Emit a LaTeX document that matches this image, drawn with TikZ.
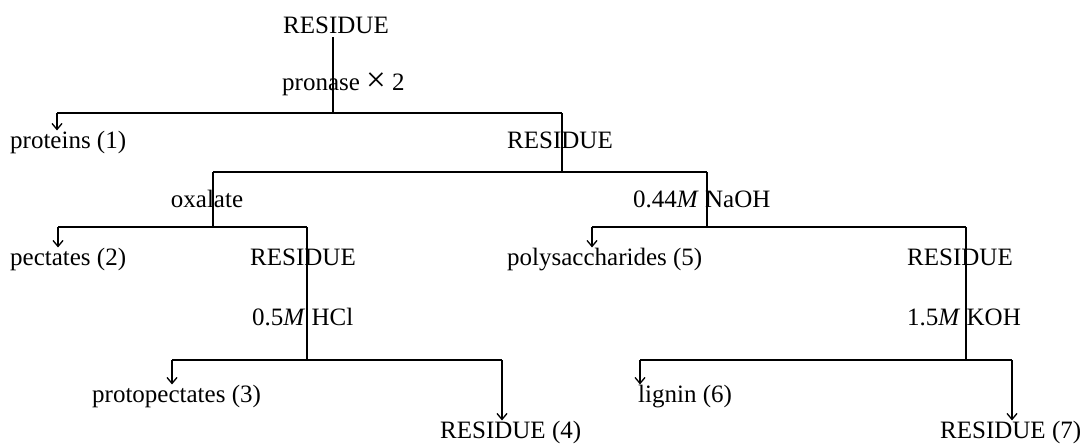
\documentclass[tikz,border=0pt]{standalone}
\usepackage{graphicx}
\usepackage{fontspec}
\setmainfont{Liberation Serif}
\usetikzlibrary{arrows.meta}
\begin{document}
\begin{tikzpicture}[x=1pt,y=-1pt,
  lab/.style={inner sep=0pt,font=\fontsize{25}{30}\selectfont},
  ln/.style={line width=1.5pt},
  arr/.style={line width=1.5pt,-{Straight Barb[length=6pt,width=10pt,line width=1.3pt]}}]
\useasboundingbox (0,0) rectangle (1090,444);
% text nodes
\node[lab,anchor=base] (r0) at (336,34) {RESIDUE};
\node[lab,anchor=base west] (pron) at (282,91) {pronase \raisebox{-1pt}{\scalebox{1.4}{×}} 2};
\node[lab,anchor=base west] (p1) at (10,148) {proteins (1)};
\node[lab,anchor=base] (r1) at (560,148) {RESIDUE};
\node[lab,anchor=base] (oxa) at (207,207) {oxalate};
\node[lab,anchor=base west] (naoh) at (633,207) {0.44\textit{M} NaOH};
\node[lab,anchor=base west] (p2) at (10,265) {pectates (2)};
\node[lab,anchor=base] (r2) at (303,265) {RESIDUE};
\node[lab,anchor=base west] (p5) at (507,265) {polysaccharides (5)};
\node[lab,anchor=base] (r3) at (960,265) {RESIDUE};
\node[lab,anchor=base west] (hcl) at (252,325) {0.5\textit{M} HCl};
\node[lab,anchor=base west] (koh) at (907,325) {1.5\textit{M} KOH};
\node[lab,anchor=base west] (p3) at (92,402) {protopectates (3)};
\node[lab,anchor=base west] (p6) at (638,402) {lignin (6)};
\node[lab,anchor=base west] (p4) at (440,438) {RESIDUE (4)};
\node[lab,anchor=base west] (p7) at (940,438) {RESIDUE (7)};
% junctions
\coordinate (j1) at (333,113);
\coordinate (j1l) at (57,113);
\coordinate (j1r) at (562,113);
\coordinate (j2) at (562,172);
\coordinate (j2l) at (213,172);
\coordinate (j2r) at (707,172);
\coordinate (j3) at (213,227);
\coordinate (j3l) at (58,227);
\coordinate (j3r) at (307,227);
\coordinate (j4) at (707,227);
\coordinate (j4l) at (592,227);
\coordinate (j4r) at (966,227);
\coordinate (j5) at (307,360);
\coordinate (j5l) at (172,360);
\coordinate (j5r) at (502,360);
\coordinate (j6) at (966,360);
\coordinate (j6l) at (640,360);
\coordinate (j6r) at (1012,360);
% connectors
\draw[ln] ([yshift=-3pt]r0.south -| j1) -- (j1);
\draw[ln] (j1l) -- (j1r);
\draw[arr] (j1l) -- (j1l |- p1.north);
\draw[ln] (j1r) -- (j2);
\draw[ln] (j2l) -- (j2r);
\draw[ln] (j2l) -- (j3);
\draw[ln] (j2r) -- (j4);
\draw[ln] (j3l) -- (j3r);
\draw[arr] (j3l) -- (j3l |- p2.north);
\draw[ln] (j3r) -- (j5);
\draw[ln] (j4l) -- (j4r);
\draw[arr] (j4l) -- (j4l |- p5.north);
\draw[ln] (j4r) -- (j6);
\draw[ln] (j5l) -- (j5r);
\draw[arr] (j5l) -- (j5l |- p3.north);
\draw[arr] (j5r) -- (j5r |- p4.north);
\draw[ln] (j6l) -- (j6r);
\draw[arr] (j6l) -- (j6l |- p6.north);
\draw[arr] (j6r) -- (j6r |- p7.north);
\end{tikzpicture}
\end{document}
